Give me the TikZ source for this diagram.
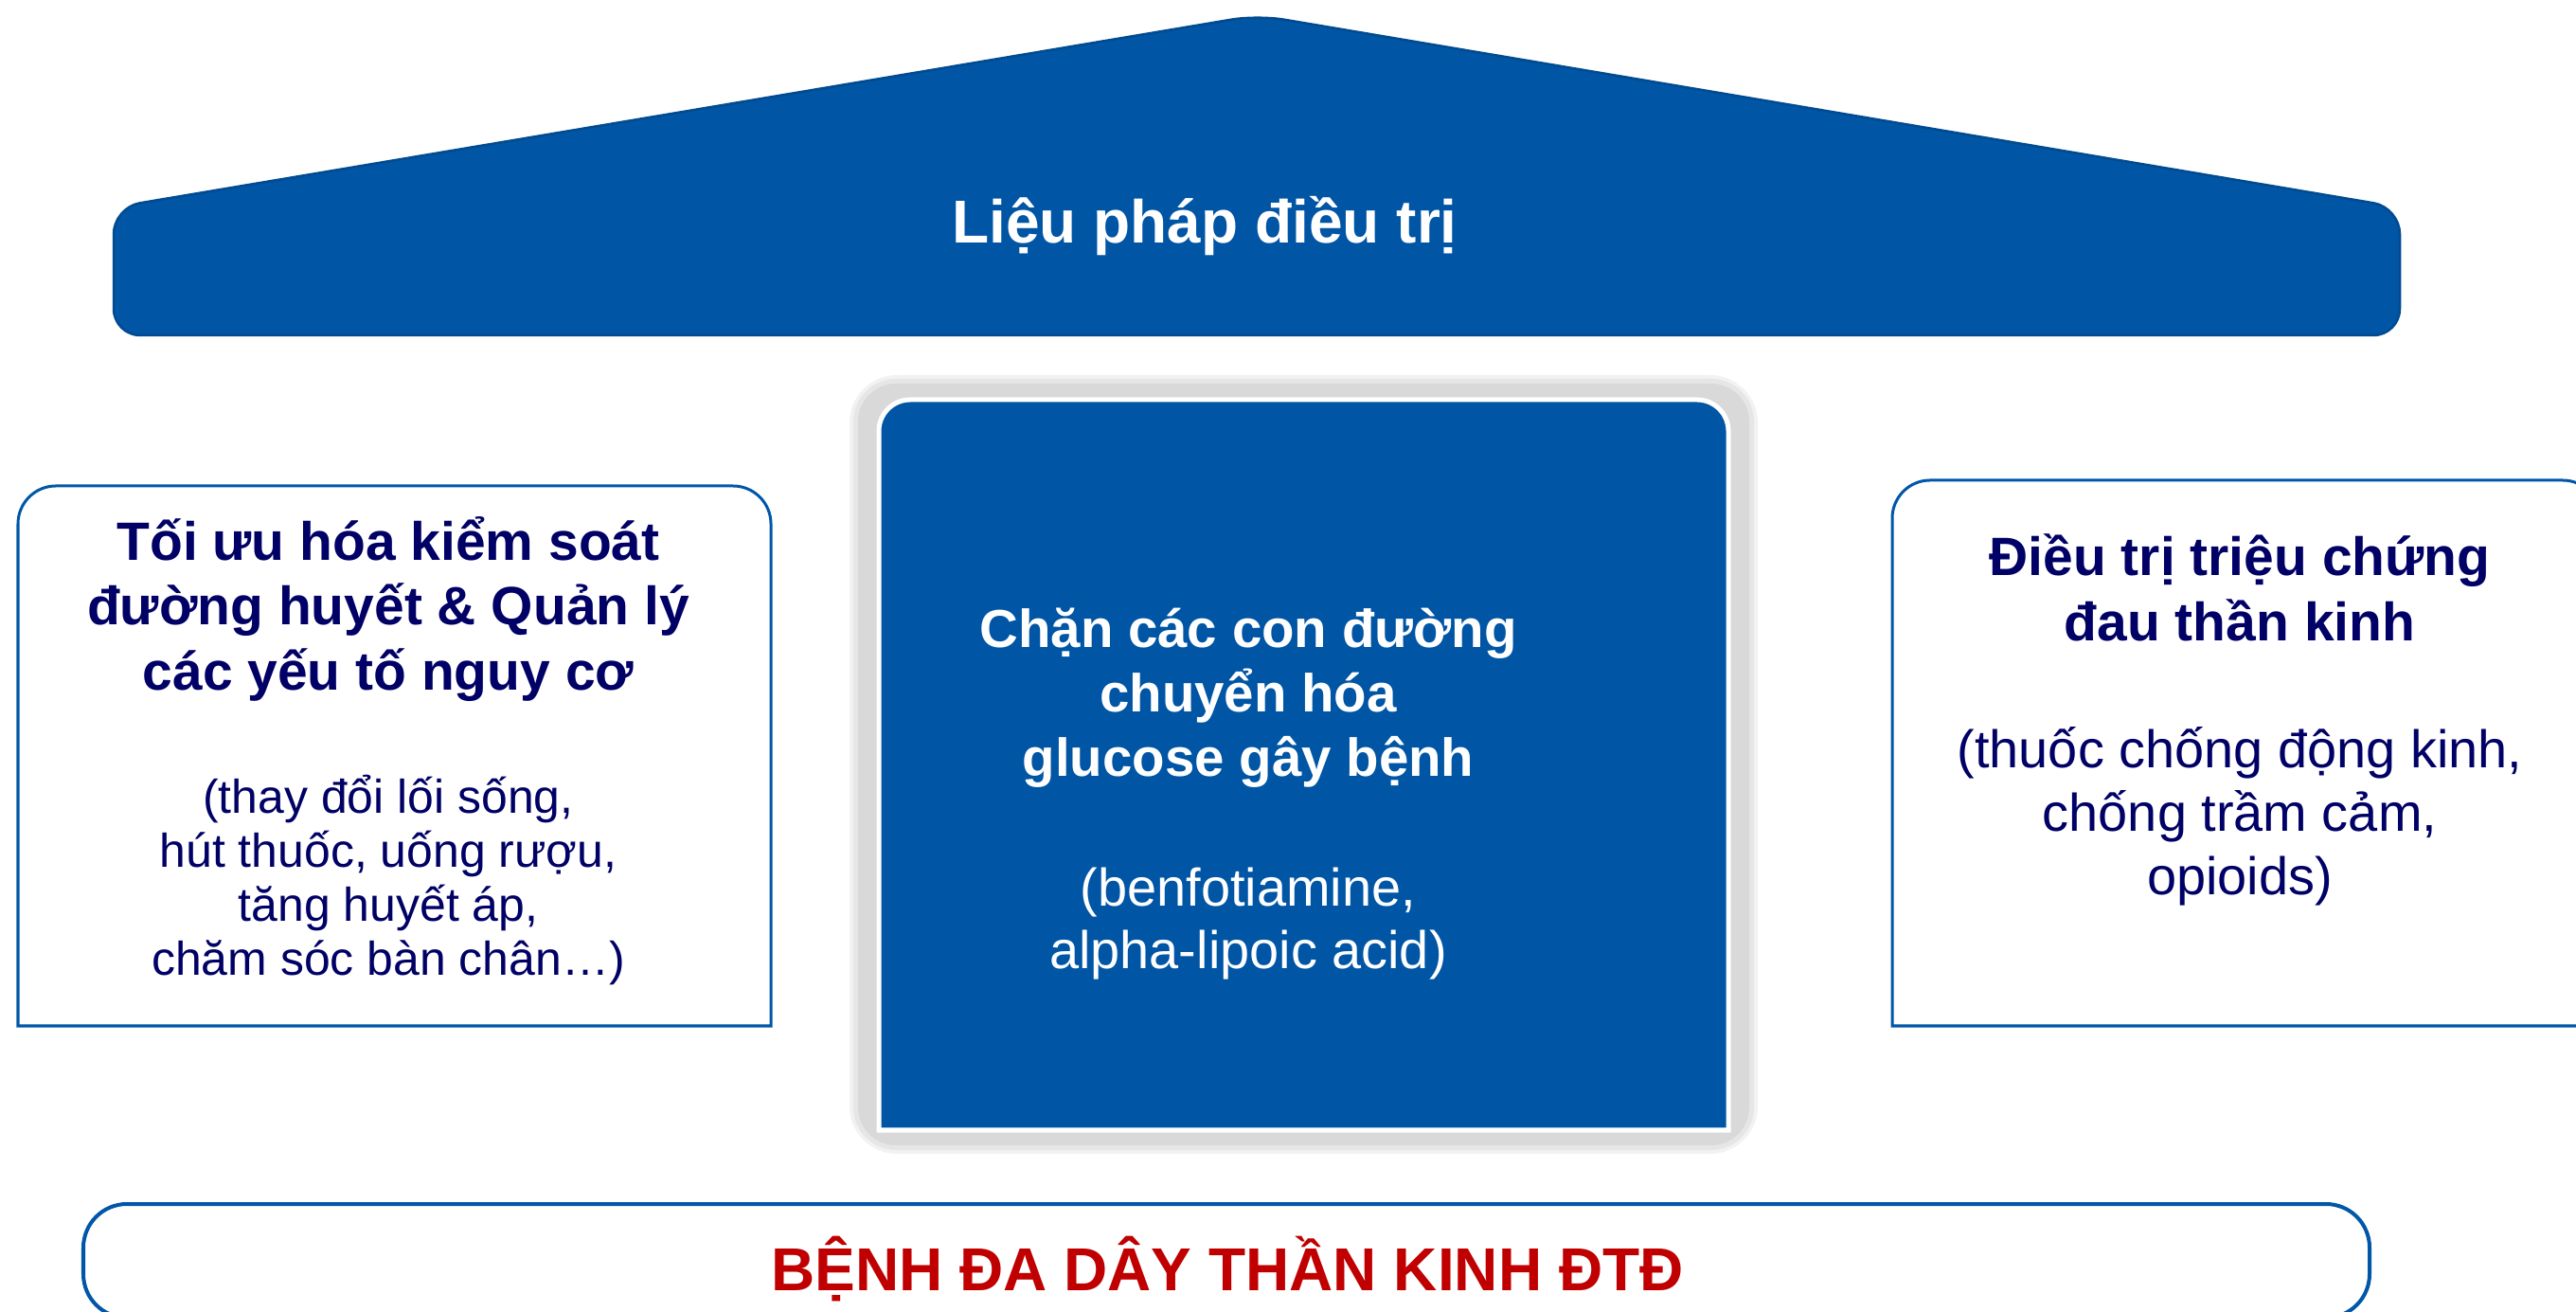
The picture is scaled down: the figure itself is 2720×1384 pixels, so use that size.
\documentclass[tikz,border=0pt]{standalone}
\usepackage{fontspec}
\setmainfont{Liberation Sans}
\usetikzlibrary{positioning,calc}
\definecolor{mainblue}{RGB}{0,85,165}
\definecolor{edgeblue}{RGB}{0,87,168}
\definecolor{navy}{RGB}{0,0,102}
\definecolor{alertred}{RGB}{192,0,0}
\definecolor{shadowgray}{RGB}{217,217,217}

\begin{document}
\begin{tikzpicture}[x=0.01cm, y=0.01cm,
    roof/.style={fill=mainblue, draw=mainblue!88!black, line width=0.025cm, rounded corners=0.28cm},
    panel/.style={draw=edgeblue, line width=0.03cm, fill=white},
    core/.style={fill=mainblue, draw=white, line width=0.05cm},
    base/.style={draw=edgeblue, line width=0.04cm, fill=white, rounded corners=0.46cm},
    headtext/.style={text=white, font=\bfseries\fontsize{18.2}{22}\selectfont},
    paneltitle/.style={text=navy, align=center, font=\bfseries\fontsize{16.2}{19.6}\selectfont},
    panelnote/.style={text=navy, align=center, font=\fontsize{14.2}{16.2}\selectfont},
    painnote/.style={text=navy, align=center, font=\fontsize{15.9}{19}\selectfont},
    coretitle/.style={text=white, align=center, font=\bfseries\fontsize{16.05}{19.4}\selectfont},
    corenote/.style={text=white, align=center, font=\fontsize{15.9}{18.8}\selectfont},
    alerttext/.style={text=alertred, font=\bfseries\fontsize{18.2}{22}\selectfont}
]
    \useasboundingbox (0,0) rectangle (2720,1384);
    \clip (0,0) rectangle (2720,1384);

    % roof
    \draw[roof] (120,1030) -- (120,1165) -- (1328,1368) -- (2534,1165) -- (2534,1030) -- cycle;
    \node[headtext, anchor=base] (therapy) at (1272,1127) {Liệu pháp điều trị};

    % left panel
    \draw[panel] (19,301) -- (19,831) arc[start angle=180, end angle=90, radius=0.4cm]
        -- (774,871) arc[start angle=90, end angle=0, radius=0.4cm] -- (814,301) -- cycle;
    \node[paneltitle] (glyTitle) at (410,741) {Tối ưu hóa kiểm soát\\đường huyết \& Quản lý\\các yếu tố nguy cơ};
    \node[panelnote] (glyNote) at (410,455) {(thay đổi lối sống,\\hút thuốc, uống rượu,\\tăng huyết áp,\\chăm sóc bàn chân…)};

    % centre panel with its shadow
    \fill[shadowgray!35, rounded corners=0.5cm] (897,166) rectangle (1856,988);
    \fill[shadowgray!65, rounded corners=0.45cm] (901,170) rectangle (1852,984);
    \fill[shadowgray, rounded corners=0.4cm] (906,175) rectangle (1847,979);
    \draw[core] (928,191) -- (928,929) arc[start angle=180, end angle=90, radius=0.33cm]
        -- (1792,962) arc[start angle=90, end angle=0, radius=0.33cm] -- (1825,191) -- cycle;
    \node[coretitle] (pathTitle) at (1318,647) {Chặn các con đường\\chuyển hóa\\glucose gây bệnh};
    \node[corenote] (pathNote) at (1318,409) {(benfotiamine,\\alpha-lipoic acid)};

    % right panel
    \draw[panel] (1998,301) -- (1998,837) arc[start angle=180, end angle=90, radius=0.4cm]
        -- (2706,877) arc[start angle=90, end angle=0, radius=0.4cm] -- (2746,301) -- cycle;
    \node[paneltitle] (painTitle) at (2365,764) {Điều trị triệu chứng\\đau thần kinh};
    \node[painnote] (painNote) at (2365,522) {(thuốc chống động kinh,\\chống trầm cảm,\\opioids)};

    % base
    \draw[base] (88,-7) rectangle (2502,113);
    \node[alerttext, anchor=base] (disease) at (1296,22) {BỆNH ĐA DÂY THẦN KINH ĐTĐ};
\end{tikzpicture}
\end{document}
